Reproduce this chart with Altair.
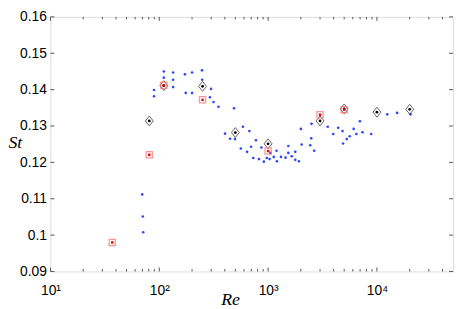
import altair as alt
import pandas as pd

# ---- data ----
blue_re = [69.7, 70.6, 71.2, 89.5, 89.5, 110, 110, 134, 134, 134, 172, 175, 200, 200,
           247, 248, 299, 292, 315, 350, 486, 402, 447, 496, 562, 587, 641, 673, 697,
           731, 773, 824, 868, 914, 973, 1032, 1050, 1127, 1194, 1204, 1312, 1447, 1534,
           1534, 1647, 1776, 1776, 1919, 2000, 2034, 2438, 2490, 2505, 2651, 3529, 3967,
           4402, 4826, 4887, 5280, 5620, 6110, 6465, 6970, 7373, 8845, 12430, 15310, 20370]
blue_st = [0.1112, 0.1051, 0.1008, 0.1399, 0.1382, 0.1450, 0.1433, 0.1447, 0.1427, 0.1407,
           0.1442, 0.1391, 0.1447, 0.1391, 0.1453, 0.1427, 0.1402, 0.1379, 0.1366, 0.1353,
           0.1349, 0.1279, 0.1265, 0.1264, 0.1238, 0.1298, 0.1229, 0.1286, 0.1243, 0.1212,
           0.1261, 0.1209, 0.1241, 0.1202, 0.1212, 0.1209, 0.1226, 0.1215, 0.1232, 0.1203,
           0.1215, 0.1213, 0.1245, 0.1226, 0.1217, 0.1229, 0.1207, 0.1203, 0.1292, 0.1249,
           0.1247, 0.1266, 0.1306, 0.1232, 0.1298, 0.1278, 0.1295, 0.1286, 0.1252, 0.1264,
           0.1272, 0.1292, 0.1278, 0.1313, 0.1283, 0.1278, 0.1332, 0.1336, 0.1332]

square_re = [37, 81, 110, 250, 1000, 3000, 5000]
square_st = [0.0980, 0.1221, 0.1412, 0.1372, 0.1231, 0.1331, 0.1345]

diamond_re = [81, 110, 250, 500, 1000, 3000, 5000, 10000, 20000]
diamond_st = [0.1314, 0.1411, 0.1409, 0.1282, 0.1251, 0.1314, 0.1347, 0.1338, 0.1346]

x_major = [10, 100, 1000, 10000]
x_minor = [20, 30, 40, 50, 60, 70, 80, 90,
           200, 300, 400, 500, 600, 700, 800, 900,
           2000, 3000, 4000, 5000, 6000, 7000, 8000, 9000,
           20000, 30000, 40000]
y_ticks = [0.09, 0.10, 0.11, 0.12, 0.13, 0.14, 0.15, 0.16]

W, H = 408, 258
FRAME = "#555555"

xs = alt.Scale(type="log", domain=[10, 50000], nice=False)
ys = alt.Scale(domain=[0.09, 0.16], nice=False, zero=False)

blue = pd.DataFrame({"Re": blue_re, "St": blue_st})
sq = pd.DataFrame({"Re": square_re, "St": square_st})
dm = pd.DataFrame({"Re": diamond_re, "St": diamond_st})

x_label_expr = ("datum.value == 10 ? '10\u00b9' : datum.value == 100 ? '10\u00b2' : "
                "datum.value == 1000 ? '10\u00b3' : '10\u2074'")

x_axis = alt.Axis(
    values=x_major, labelExpr=x_label_expr,
    ticks=False, domain=False, grid=False,
    labelFont="Liberation Sans", labelFontSize=14, labelColor="black",
    labelBaseline="alphabetic", labelPadding=23, labelFlush=False,
    title="Re", titleFont="Liberation Serif", titleFontStyle="italic",
    titleFontWeight="normal", titleFontSize=18, titleColor="black",
    titleX=182, titleY=33, titleBaseline="alphabetic", titleAlign="center",
)
y_axis = alt.Axis(
    values=y_ticks, labelExpr="format(datum.value, '.2~f')",
    ticks=False, domain=False, grid=False,
    labelFont="Liberation Sans", labelFontSize=14, labelColor="black",
    labelPadding=4, labelFlush=False,
    title="St", titleFont="Liberation Serif", titleFontStyle="italic",
    titleFontWeight="normal", titleFontSize=18, titleColor="black",
    titleAngle=0, titleX=-43, titleY=132, titleBaseline="alphabetic", titleAlign="left",
)

def X(field):
    return alt.X(field, scale=xs, axis=x_axis)

def Y(field):
    return alt.Y(field, scale=ys, axis=y_axis)

blue_layer = alt.Chart(blue).mark_point(
    shape="circle", filled=True, size=7, color="#1f3dff", opacity=0.95
).encode(x=X("Re:Q"), y=Y("St:Q"))

diamond_path = "M0,-1.25L1,0L0,1.25L-1,0Z"
dm_outline = alt.Chart(dm).mark_point(
    shape=diamond_path, filled=False, size=64, stroke="#222222", strokeWidth=1
).encode(x=X("Re:Q"), y=Y("St:Q"))
dm_center = alt.Chart(dm).mark_point(
    shape="circle", filled=True, size=8, color="black", opacity=1
).encode(x=X("Re:Q"), y=Y("St:Q"))

sq_outline = alt.Chart(sq).mark_point(
    shape="square", filled=False, size=40, stroke="#ff6b6b", strokeWidth=1.3
).encode(x=X("Re:Q"), y=Y("St:Q"))
sq_center = alt.Chart(sq).mark_point(
    shape="square", filled=True, size=6, color="#e00000", opacity=1
).encode(x=X("Re:Q"), y=Y("St:Q"))

# inward tick marks (MATLAB style)
def xticks(vals, length):
    d = pd.DataFrame({"Re": vals})
    base = alt.Chart(d).mark_rule(color=FRAME, strokeWidth=1)
    top = base.encode(x=X("Re:Q"), y=alt.value(0), y2=alt.value(length))
    bot = base.encode(x=X("Re:Q"), y=alt.value(H), y2=alt.value(H - length))
    return [top, bot]

def yticks(vals, length):
    d = pd.DataFrame({"St": vals})
    base = alt.Chart(d).mark_rule(color=FRAME, strokeWidth=1)
    left = base.encode(y=Y("St:Q"), x=alt.value(0), x2=alt.value(length))
    right = base.encode(y=Y("St:Q"), x=alt.value(W), x2=alt.value(W - length))
    return [left, right]

layers = [blue_layer] + xticks(x_major, 4) + xticks(x_minor, 2.5) + yticks(y_ticks, 4) + [
    dm_outline, dm_center, sq_outline, sq_center]

chart = alt.layer(*layers).properties(
    width=W, height=H,
    autosize=alt.AutoSizeParams(type="none"),
    padding={"left": 43, "top": 7, "right": 2, "bottom": 36},
).configure_view(stroke=FRAME, strokeWidth=1).configure(background="white")

chart.save("out.html", embed_options={"renderer": "svg", "actions": False})
